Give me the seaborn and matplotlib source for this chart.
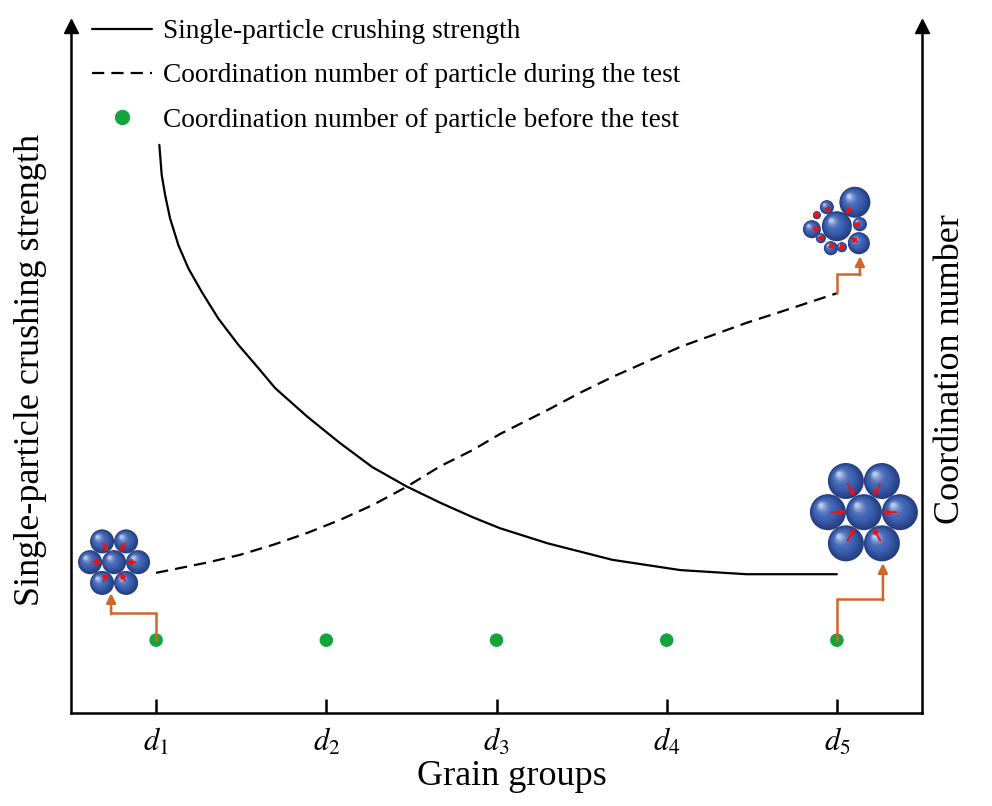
import numpy as np
import pandas as pd
import seaborn as sns
import matplotlib.pyplot as plt
import matplotlib.colors as mcolors
from matplotlib.patches import Circle
from matplotlib.lines import Line2D

# chart data (arbitrary units)
groups = [1, 2, 3, 4, 5]
group_labels = [r'$d_1$', r'$d_2$', r'$d_3$', r'$d_4$', r'$d_5$']

strength_x = [1.019, 1.033, 1.053, 1.082, 1.131, 1.190, 1.268, 1.366, 1.483,
              1.601, 1.699, 1.89, 2.08, 2.27, 2.47, 2.67, 2.86, 3.02, 3.30,
              3.68, 4.08, 4.47, 5.0]
strength_y = [82.7, 78.3, 75.4, 72.0, 68.1, 64.7, 61.3, 57.4, 53.6,
              50.2, 47.3, 43.1, 39.3, 35.8, 33.0, 30.6, 28.5, 26.9, 24.7,
              22.3, 20.8, 20.2, 20.2]

coord_x = [1.0, 1.10, 1.30, 1.49, 1.69, 1.887, 2.08, 2.275, 2.47, 2.668, 2.862,
           3.02, 3.10, 3.30, 3.49, 3.68, 3.88, 4.08, 4.27, 4.47, 4.67, 5.0]
coord_y = [20.4, 20.9, 21.9, 23.0, 24.5, 26.2, 28.1, 30.3, 32.9, 35.9, 38.3,
           40.6, 41.6, 44.1, 46.6, 48.9, 51.1, 53.3, 55.0, 56.8, 58.4, 61.1]

before_y = [10.6, 10.6, 10.6, 10.6, 10.6]

W, H = 992, 806
sns.set_style("white")
plt.rcParams['font.family'] = ['Liberation Serif', 'DejaVu Serif']
plt.rcParams['mathtext.fontset'] = 'stix'
plt.rcParams['text.color'] = 'black'
plt.rcParams['axes.labelcolor'] = 'black'

fig = plt.figure(figsize=(W / 100, H / 100), dpi=100)
ax = fig.add_axes([71 / W, (H - 713) / H, (922 - 71) / W, (713 - 26) / H])

df_s = pd.DataFrame({'x': strength_x, 'y': strength_y})
df_c = pd.DataFrame({'x': coord_x, 'y': coord_y})
sns.lineplot(data=df_s, x='x', y='y', ax=ax, color='black', lw=1.6, sort=False)
sns.lineplot(data=df_c, x='x', y='y', ax=ax, color='black', lw=1.6, sort=False)
ax.lines[-1].set_dashes((5.5, 3.2))
sns.scatterplot(x=groups, y=before_y, ax=ax, color='#13a53b', s=95,
                edgecolor='none', zorder=5)

ax.set_xlim(0.5, 5.5)
ax.set_ylim(0, 100)
ax.set_xticks(groups)
ax.set_xticklabels(group_labels, fontsize=22)
ax.set_yticks([])
ax.tick_params(axis='x', direction='in', length=10, width=1.8, pad=10,
               bottom=True, colors='black')
for side in ['left', 'right', 'bottom']:
    ax.spines[side].set_visible(True)
    ax.spines[side].set_color('black')
    ax.spines[side].set_linewidth(1.8)
ax.spines['top'].set_visible(False)
ax.plot([0, 1], [1, 1], '^', color='black', ms=10, transform=ax.transAxes,
        clip_on=False)

ax.set_xlabel('Grain groups', fontsize=26)
ax.xaxis.set_label_coords(0.518, -0.068)
ax.set_ylabel('Single-particle crushing strength', fontsize=26)
ax.yaxis.set_label_coords(-0.028, 0.5)
ax.text(1.034, 0.5, 'Coordination number', fontsize=26, rotation=90,
        ha='center', va='center', transform=ax.transAxes)

handles = [Line2D([], [], color='black', lw=1.6),
           Line2D([], [], color='black', lw=1.6, dashes=(5.5, 3.2)),
           Line2D([], [], color='#13a53b', marker='o', ls='none', ms=10)]
labels = ['Single-particle crushing strength',
          'Coordination number of particle during the test',
          'Coordination number of particle before the test']
fig.legend(handles, labels, loc='upper left', bbox_to_anchor=(92 / W, 1 - 19 / H),
           frameon=False, fontsize=19.7, handlelength=2.19, handletextpad=0.4,
           labelspacing=0.7, borderpad=0, borderaxespad=0)

# particle illustrations on a pixel overlay
ov = fig.add_axes([0, 0, 1, 1], zorder=10)
ov.set_xlim(0, W)
ov.set_ylim(0, H)
ov.axis('off')
ov.patch.set_alpha(0)

edge_c = np.array(mcolors.to_rgb('#243d80'))
mid_c = np.array(mcolors.to_rgb('#4064b4'))
hi_c = np.array(mcolors.to_rgb('#b9c9ee'))


def sphere(cx, cy, r):
    n = 16
    for i in range(n):
        t = i / (n - 1)
        if t < 0.45:
            col = edge_c + (mid_c - edge_c) * (t / 0.45)
        else:
            col = mid_c + (hi_c - mid_c) * ((t - 0.45) / 0.55) ** 2
        rr = r * (1 - 0.88 * t)
        off = 0.38 * r * t
        ov.add_patch(Circle((cx - off, cy + off), rr, color=col, lw=0))


def push_arrow(c0, c, r, frac=0.8):
    u = np.array(c) - np.array(c0)
    u = u / np.linalg.norm(u)
    tip = np.array(c0) + u * r
    tail = tip - u * r * frac
    ov.annotate('', xy=tip, xytext=tail,
                arrowprops=dict(arrowstyle='-|>', color='#ee1111', lw=1.4,
                                mutation_scale=7, shrinkA=0, shrinkB=0))


def cluster(cx, cy, parts, hub_r):
    for dx, dy, r in parts:
        sphere(cx + dx, cy + dy, r)
    sphere(cx, cy, hub_r)
    for dx, dy, r in parts:
        push_arrow((cx + dx, cy + dy), (cx, cy), r)


def connector(x0, y0, ymid, x1, ytip):
    col = '#d2652a'
    ov.plot([x0, x0, x1, x1], [y0, ymid, ymid, ymid], color=col, lw=1.8,
            solid_joinstyle='miter')
    ov.annotate('', xy=(x1, ytip), xytext=(x1, ymid - 1),
                arrowprops=dict(arrowstyle='-|>', color=col, lw=1.8,
                                mutation_scale=14, shrinkA=0, shrinkB=0))


def hexagon(r):
    s = 2 * r
    return [(-r, s * 0.866), (r, s * 0.866), (-s, 0), (s, 0),
            (-r, -s * 0.866), (r, -s * 0.866)]


d1 = ax.transData.transform((groups[0], before_y[0]))
d5 = ax.transData.transform((groups[4], before_y[4]))
c5 = ax.transData.transform((coord_x[-1], coord_y[-1]))

# d1 cluster (before test)
connector(d1[0], d1[1], d1[1] + 27, d1[0] - 45, d1[1] + 47)
cluster(d1[0] - 42, d1[1] + 78, [(dx, dy, 12) for dx, dy in hexagon(12)], 12)

# d5 cluster (before test)
connector(d5[0], d5[1], d5[1] + 41, d5[0] + 46, d5[1] + 77)
cluster(d5[0] + 27, d5[1] + 128, [(dx, dy, 18) for dx, dy in hexagon(18)], 18)

# d5 cluster (during test)
connector(c5[0], c5[1], c5[1] + 19, c5[0] + 23, c5[1] + 37)
cx, cy = c5[0], c5[1] + 67
small = [(-25, -3, 9), (-10, 19, 7), (-20, 11, 4), (23, 2, 7), (22, -17, 11),
         (-6, -22, 7), (5, -21, 5), (-16, -12, 5)]
sphere(cx + 18, cy + 24, 15.5)
push_arrow((cx + 18, cy + 24), (cx, cy), 15.5, 0.5)
cluster(cx, cy, small, 15)

fig.savefig('out.png', dpi=100)
